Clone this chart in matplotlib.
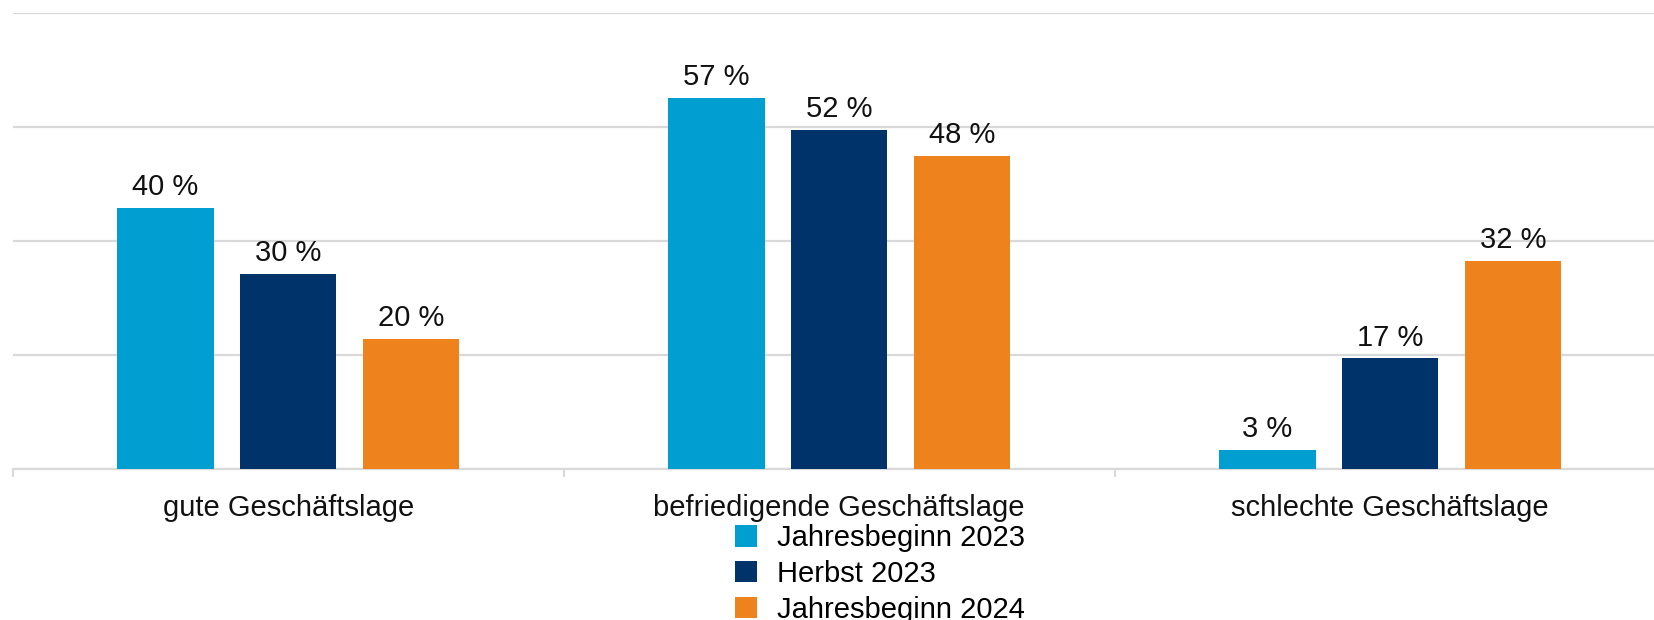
import numpy as np
import matplotlib.pyplot as plt
from matplotlib.patches import Patch

plt.rcParams['font.family'] = ['Liberation Sans', 'DejaVu Sans']

categories = ["gute Geschäftslage", "befriedigende Geschäftslage", "schlechte Geschäftslage"]
series_names = ["Jahresbeginn 2023", "Herbst 2023", "Jahresbeginn 2024"]
jahresbeginn_2023 = [40, 57, 3]
herbst_2023 = [30, 52, 17]
jahresbeginn_2024 = [20, 48, 32]
colors = ["#009ED1", "#00336A", "#EE831E"]

values = [jahresbeginn_2023, herbst_2023, jahresbeginn_2024]

fig = plt.figure(figsize=(16.54, 6.2), dpi=100)
# axes runs slightly past the right edge, as in the original
ax = fig.add_axes([12.7 / 1654, 150.6 / 620, 1653 / 1654, (469.4 - 12.7) / 620])

x = np.arange(len(categories))
width = 0.175
pitch = 0.2226
for i, (vals, c) in enumerate(zip(values, colors)):
    pos = x + (i - 1) * pitch
    bars = ax.bar(pos, vals, width=width, color=c, zorder=3, label=series_names[i])
    for b, v in zip(bars, vals):
        ax.annotate(f"{v} %", xy=(b.get_x() + b.get_width() / 2, b.get_height()),
                    xytext=(0, 5), textcoords="offset points",
                    ha="center", va="bottom", fontsize=21, color="#111111")

ax.set_xlim(-0.5, 2.5)
ax.set_ylim(0, 70)
ax.set_yticks([0, 17.5, 35, 52.5, 70])
ax.yaxis.grid(True, color="#d9d9d9", linewidth=1.6, zorder=0)
ax.tick_params(axis="y", left=False, labelleft=False)

ax.set_xticks(x)
ax.set_xticklabels(categories, fontsize=21, color="#111111")
ax.set_xticks([-0.5, 0.5, 1.5, 2.5], minor=True)
ax.tick_params(axis="x", which="major", length=0, pad=18)
ax.tick_params(axis="x", which="minor", length=6, width=1.5, color="#d9d9d9")

for s in ["top", "right", "left"]:
    ax.spines[s].set_visible(False)
ax.spines["bottom"].set_color("#d9d9d9")
ax.spines["bottom"].set_linewidth(1.6)

handles = [Patch(facecolor=c, edgecolor="none") for c in colors]
fig.legend(handles, series_names, loc="upper left",
           bbox_to_anchor=(735 / 1654, 1 - 524 / 620), frameon=False,
           fontsize=21, handlelength=0.75, handleheight=0.75,
           handletextpad=0.69, labelspacing=0.27, borderpad=0, borderaxespad=0)

fig.savefig("out.png", dpi=100)
